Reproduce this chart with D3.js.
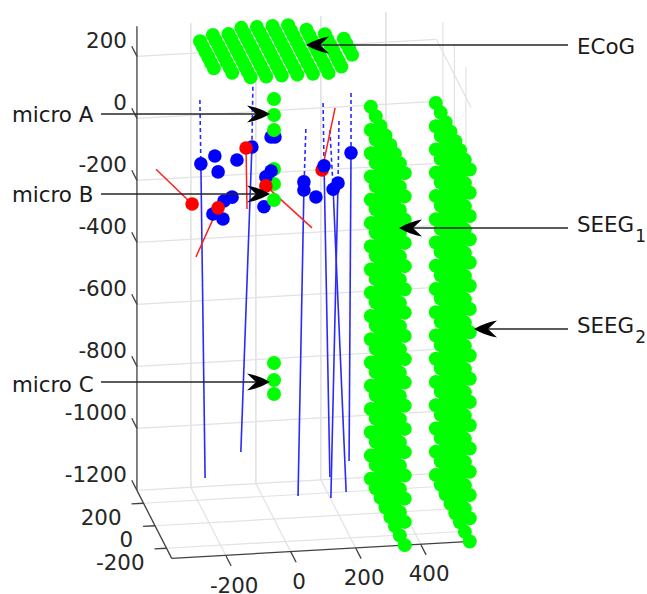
<!DOCTYPE html>
<html>
<head>
<meta charset="utf-8">
<title>Electrode locations</title>
<script src="https://d3js.org/d3.v7.min.js"></script>
<style>
  body { margin: 0; background: #fff; }
  text { font-family: "DejaVu Sans", sans-serif; font-size: 21.4px; }
</style>
</head>
<body>
<div id="chart"></div>
<script>
// Axis ranges and ticks
const xRange = [-366, 555];
const yRange = [-290, 315];
const zRange = [-1200, 297];
const xTicks = [-200, 0, 200, 400];
const yTicks = [-200, 0, 200];
const zTicks = [200, 0, -200, -400, -600, -800, -1000, -1200];

// SEEG: two planes of shanks, every shank has the same contacts
const seegX = [351, 551];
const seegY = [300, 215, 130, 45, -40, -120, -205, -290];
const seegZ = [0, -75, -150, -225, -300, -375, -450, -525, -600, -675, -750, -825, -900, -975, -1050, -1125, -1200];
// inner shanks also carry contacts half way between the rows, the strips look solid
const seegInnerY = [130, 45, -40, -120];
const seegInnerZ = [-37, -112, -187, -262, -337, -412, -487, -562, -637, -712, -787, -862, -937, -1012, -1087, -1162];

// ECoG: grid at one height, rows used by each column are given by first/last index
const ecogZ = 250;
const ecogX = [-178, -130, -82, -34, 14, 62, 110, 158, 206, 256];
const ecogY = [376, 328, 280, 232, 184, 136, 88, 40, -8, -56];
const ecogFirst = [2, 1, 1, 0, 0, 0, 0, 1, 2, 3];
const ecogLast = [7, 8, 9, 9, 9, 9, 9, 9, 8, 6];

// Micro contacts (depth can't be read from one view, they are all put on y = 0)
const microX = [0, 0, 0, 0, 0, 0, 0, 0, 0];
const microZ = [155, 103, 55, -71, -119, -171, -697, -752, -797];

const blueX = [-225, -182, -172, -114, -68, -9, 3, -9, -25, -31, -129, -154, -188, -157, 92, 92, 129, 154, 182, 197, 237];
const blueZ = [-41, -18, -70, -35, 4, 33, 32, -77, -95, -191, -154, -165, -205, -223, -118, -144, -169, -70, -147, -128, -33];
const blueOverGreen = [7, 8];
const blueOverRed = [17];

// Shanks: which blue dot they go through, then the dashed top end and the solid bottom end
const shankDot = [0, 4, 15, 17, 18, 19, 20];
const shankTopX = [-228, -65, 98, 151, 172, 200, 237];
const shankTopZ = [165, 198, 52, 133, 45, 72, 160];
const shankEndX = [-212, -102, 74, 172, 222, 175, 231];
const shankEndZ = [-1055, -978, -1130, -1075, -1126, -1143, -1027];

const redX = [-252, -172, -86, -25, 148];
const redZ = [-169, -186, 2, -124, -83];
const redEndX = [-363, -240, -83, 117, 188];
const redEndZ = [-50, -340, -195, -268, 115];

const labels = ["ECoG", "SEEG", "SEEG", "micro A", "micro B", "micro C"];
const labelSubs = ["", "1", "2", "", "", ""];

const width = 647, height = 594;
const svg = d3.select("#chart").append("svg")
    .attr("width", width)
    .attr("height", height)
    .style("display", "block");

// The view is a fixed 3D projection: each data axis moves a point along its own screen direction
const xLeft = d3.scaleLinear().domain([0, 1000]).range([274, 599]);
const xTop = d3.scaleLinear().domain([0, 1000]).range([0, -18.5]);
const yLeft = d3.scaleLinear().domain([0, 1000]).range([0, -57.5]);
const yTop = d3.scaleLinear().domain([0, 1000]).range([0, -112.5]);
const zTop = d3.scaleLinear().domain([-1200, 0]).range([519, 147]);
const project = (x, y, z) => [xLeft(x) + yLeft(y), zTop(z) + xTop(x) + yTop(y)];

function segment(g, a, b, color, w) {
  const p = project(...a), q = project(...b);
  return g.append("line")
    .attr("x1", p[0]).attr("y1", p[1])
    .attr("x2", q[0]).attr("y2", q[1])
    .attr("stroke", color)
    .attr("stroke-width", w);
}

function dots(g, points, color, r) {
  g.selectAll(null)
    .data(points)
    .join("circle")
    .attr("cx", d => project(...d)[0])
    .attr("cy", d => project(...d)[1])
    .attr("r", r)
    .attr("fill", color);
}

// Grid on the back wall, right wall and floor
const gridColor = "#e2e2e2";
const grid = svg.append("g");
zTicks.forEach(z => {
  segment(grid, [xRange[0], yRange[1], z], [xRange[1], yRange[1], z], gridColor, 1.2);
  segment(grid, [xRange[1], yRange[1], z], [xRange[1], yRange[0], z], gridColor, 1.2);
});
xTicks.forEach(x => {
  segment(grid, [x, yRange[1], zRange[0]], [x, yRange[1], zRange[1]], gridColor, 1.6);
  segment(grid, [x, yRange[0], zRange[0]], [x, yRange[1], zRange[0]], gridColor, 1.2);
});
yTicks.forEach(y => {
  segment(grid, [xRange[1], y, zRange[0]], [xRange[1], y, zRange[1]], gridColor, 1.2);
  segment(grid, [xRange[0], y, zRange[0]], [xRange[1], y, zRange[0]], gridColor, 1.2);
});

// Axes and tick marks
const axisColor = "#404040";
const axes = svg.append("g");
segment(axes, [xRange[0], yRange[1], zRange[0]], [xRange[0], yRange[1], zRange[1]], axisColor, 1.3);
segment(axes, [xRange[0], yRange[1], zRange[0]], [xRange[0], yRange[0], zRange[0]], axisColor, 1.3);
segment(axes, [xRange[0], yRange[0], zRange[0]], [xRange[1], yRange[0], zRange[0]], axisColor, 1.3);
zTicks.forEach(z => segment(axes, [xRange[0], yRange[1], z], [xRange[0], yRange[1] + 90, z], axisColor, 1.3));
yTicks.forEach(y => segment(axes, [xRange[0], y, zRange[0]], [xRange[0] - 37, y, zRange[0]], axisColor, 1.3));
xTicks.forEach(x => segment(axes, [x, yRange[0], zRange[0]], [x, yRange[0] - 95, zRange[0]], axisColor, 1.3));

const tickText = "#262626";
axes.selectAll(null).data(zTicks).join("text")
  .attr("x", d => project(xRange[0], yRange[1], d)[0] - 10)
  .attr("y", d => project(xRange[0], yRange[1], d)[1] - 16)
  .attr("text-anchor", "end").attr("dy", "0.36em")
  .attr("fill", tickText).text(d => d);
axes.selectAll(null).data(yTicks).join("text")
  .attr("x", d => project(xRange[0], d, zRange[0])[0] - 22)
  .attr("y", d => project(xRange[0], d, zRange[0])[1] + 14)
  .attr("text-anchor", "end").attr("dy", "0.36em")
  .attr("fill", tickText).text(d => d);
axes.selectAll(null).data(xTicks).join("text")
  .attr("x", d => project(d, yRange[0], zRange[0])[0] + 8.5)
  .attr("y", d => project(d, yRange[0], zRange[0])[1] + 29.5)
  .attr("text-anchor", "middle").attr("dy", "0.36em")
  .attr("fill", tickText).text(d => d);

// Electrodes
const marks = svg.append("g");
dots(marks, d3.cross(seegX, d3.cross(seegY, seegZ)).map(d => [d[0], d[1][0], d[1][1]]), "#00ff00", 7);
dots(marks, d3.cross(seegX, d3.cross(seegInnerY, seegInnerZ)).map(d => [d[0], d[1][0], d[1][1]]), "#00ff00", 7);

const ecogPoints = [];
ecogX.forEach((x, i) => {
  ecogY.slice(ecogFirst[i], ecogLast[i] + 1).forEach(y => ecogPoints.push([x, y, ecogZ]));
});
dots(marks, ecogPoints, "#00ff00", 7);

const shankBlue = "#2a2aff";
shankDot.forEach((b, i) => {
  segment(marks, [shankTopX[i], 0, shankTopZ[i]], [blueX[b], 0, blueZ[b]], shankBlue, 1.6)
    .attr("stroke-dasharray", "4,3");
  segment(marks, [blueX[b], 0, blueZ[b]], [shankEndX[i], 0, shankEndZ[i]], shankBlue, 1.6);
});
redX.forEach((x, i) => segment(marks, [x, 0, redZ[i]], [redEndX[i], 0, redEndZ[i]], "#ff2020", 1.5));

const bluePoints = blueX.map((x, i) => [x, 0, blueZ[i]]);
const onTop = blueOverGreen.concat(blueOverRed);
dots(marks, bluePoints.filter((d, i) => !onTop.includes(i)), "#0000ff", 6.8);
dots(marks, microX.map((x, i) => [x, 0, microZ[i]]), "#00ff00", 7);
dots(marks, blueOverGreen.map(i => bluePoints[i]), "#0000ff", 6.8);
dots(marks, redX.map((x, i) => [x, 0, redZ[i]]), "#ff0000", 6.8);
dots(marks, blueOverRed.map(i => bluePoints[i]), "#0000ff", 6.8);

// Annotations are placed on the figure, not in data space
const annoFromX = [568, 568, 568, 101, 101, 101];
const annoTipX = [306, 399, 474, 270, 270, 270];
const annoY = [45, 228, 329, 114, 194, 382];
const annoTextX = [577, 577, 577, 12, 12, 12];
const annoTextY = [46, 224.5, 325.5, 114, 194, 384];

const anno = svg.append("g");
labels.forEach((name, i) => {
  const dir = annoFromX[i] > annoTipX[i] ? 1 : -1;
  const tip = annoTipX[i], y = annoY[i];
  anno.append("line")
    .attr("x1", annoFromX[i]).attr("y1", y)
    .attr("x2", tip + dir * 14).attr("y2", y)
    .attr("stroke", "#262626").attr("stroke-width", 1.4);
  // swept back head with slightly bulging outer edges
  anno.append("path")
    .attr("d", `M${tip},${y}Q${tip + dir * 11},${y - 6.5} ${tip + dir * 23},${y - 8.5}L${tip + dir * 14},${y}L${tip + dir * 23},${y + 8.5}Q${tip + dir * 11},${y + 6.5} ${tip},${y}Z`)
    .attr("fill", "#000");
  const t = anno.append("text")
    .attr("x", annoTextX[i]).attr("y", annoTextY[i])
    .attr("dy", "0.36em").attr("fill", "#1a1a1a");
  t.append("tspan").text(name);
  if (labelSubs[i]) {
    t.append("tspan").attr("dy", 10).attr("dx", 1).style("font-size", "17px").text(labelSubs[i]);
  }
});
</script>
</body>
</html>
